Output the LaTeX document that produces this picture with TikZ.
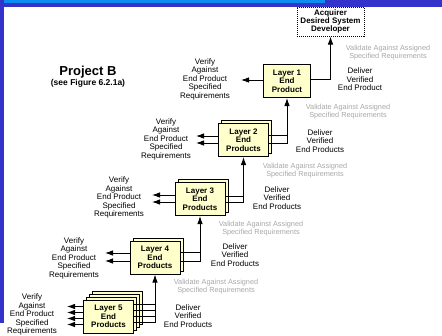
\documentclass[tikz,border=0pt]{standalone}
\usepackage{fontspec}
\setmainfont{Liberation Sans}
\usetikzlibrary{arrows.meta,calc}
\definecolor{barblue}{HTML}{3333CC}
\definecolor{lightbar}{HTML}{0A8CF0}
\definecolor{boxfill}{HTML}{FFFFCC}
\definecolor{notegray}{HTML}{A8A8A8}

\begin{document}
\begin{tikzpicture}[x=1pt,y=-1pt,
  layer/.style={draw=black, line width=1pt, fill=boxfill, minimum width=50pt,
    minimum height=33pt, inner sep=0pt, align=center,
    font=\bfseries\fontsize{8}{8.5}\selectfont},
  txt/.style={align=center, inner sep=0pt, font=\fontsize{8}{8.5}\selectfont},
  note/.style={align=center, inner sep=0pt, text=notegray, font=\fontsize{7.3}{8}\selectfont},
  link/.style={line width=0.9pt},
  arr/.style={line width=0.9pt, -{Latex[length=8pt,width=5.5pt]}},
]
% page frame
\fill[white] (0,0) rectangle (442,335);
\fill[barblue] (0,0) rectangle (442,6.5);
\fill[lightbar] (0,0) rectangle (325,3);
\fill[barblue] (0,0) rectangle (4,323);
\useasboundingbox (0,0) rectangle (442,335);

% title
\node[font=\bfseries\fontsize{13}{15}\selectfont, inner sep=0pt] (proj) at (88,72) {Project B};
\node[font=\bfseries\fontsize{8.5}{10}\selectfont, inner sep=0pt] (see) at (88,83.5) {(see Figure 6.2.1a)};

% top-level recipient
\node[draw, densely dotted, line width=1pt, minimum width=67pt, minimum height=29pt,
  inner sep=0pt, align=center, font=\bfseries\fontsize{8}{8}\selectfont]
  (acq) at (330.5,21.5) {Acquirer\\Desired System\\Developer};

% layer boxes (stacked copies behind the front box)
\node[layer, minimum width=47pt] (L1) at (287,81) {Layer 1\\End\\Product};

\node[layer] (L2b) at (246.5,137) {};
\node[layer] (L2) at (243.5,140) {Layer 2\\End\\Products};

\node[layer] (L3b) at (203,196) {};
\node[layer] (L3) at (200,199) {Layer 3\\End\\Products};

\node[layer] (L4b) at (158,254.5) {};
\node[layer] (L4) at (155,257.5) {Layer 4\\End\\Products};

\node[layer] (L5d) at (117.5,307.5) {};
\node[layer] (L5c) at (114.5,310.5) {};
\node[layer] (L5b) at (111.5,313.5) {};
\node[layer] (L5) at (108.5,316.5) {Layer 5\\End\\Products};

% labels
\node[txt] (v1) at (205,79) {Verify\\Against\\End Product\\Specified\\Requirements};
\node[txt] (d1) at (360,79.5) {Deliver\\Verified\\End Product};
\node[note] (g1) at (388,53) {Validate Against Assigned\\Specified Requirements};

\node[txt] (v2) at (166,139) {Verify\\Against\\End Product\\Specified\\Requirements};
\node[txt] (d2) at (320,141) {Deliver\\Verified\\End Products};
\node[note] (g2) at (348,111.5) {Validate Against Assigned\\Specified Requirements};

\node[txt] (v3) at (119,197.5) {Verify\\Against\\End Product\\Specified\\Requirements};
\node[txt] (d3) at (277,198) {Deliver\\Verified\\End Products};
\node[note] (g3) at (305,171) {Validate Against Assigned\\Specified Requirements};

\node[txt] (v4) at (74,258) {Verify\\Against\\End Product\\Specified\\Requirements};
\node[txt] (d4) at (235,255) {Deliver\\Verified\\End Products};
\node[note] (g4) at (261,229) {Validate Against Assigned\\Specified Requirements};

\node[txt] (v5) at (32,314.5) {Verify\\Against\\End Product\\Specified\\Requirements};
\node[txt] (d5) at (188,316) {Deliver\\Verified\\End Products};
\node[note] (g5) at (216,287) {Validate Against Assigned\\Specified Requirements};

% tips of the verification arrows
\coordinate (t1) at (241,0);
\coordinate (t2) at (196,0);
\coordinate (t3) at (152,0);
\coordinate (t4) at (105,0);
\coordinate (t5) at (67,0);

% verification arrows
\draw[arr] ([yshift=1pt]L1.west) -- ([yshift=1pt]L1.west -| t1);
\foreach \s in {4pt,-3pt} \draw[arr] ([yshift=\s]L2.west) -- ([yshift=\s]L2.west -| t2);
\foreach \s in {4pt,-3pt} \draw[arr] ([yshift=\s]L3.west) -- ([yshift=\s]L3.west -| t3);
\foreach \s in {4.5pt,-3.5pt} \draw[arr] ([yshift=\s]L4.west) -- ([yshift=\s]L4.west -| t4);
\foreach \s in {10pt,4pt,-2pt,-8pt} \draw[arr] ([yshift=\s]L5.west) -- ([yshift=\s]L5.west -| t5);

% delivery lines up to the next layer
\draw[arr] ([yshift=1.5pt]L1.east) -| (acq.south);

\draw[arr] ([yshift=-3pt]L2.east) -| (L1.south);
\draw[link] ([yshift=5pt]L2.east) -- ([yshift=5pt]L2.east -| L1.south);

\draw[arr] ([yshift=-3pt]L3.east) -| (L2.south);
\draw[link] ([yshift=3pt]L3.east) -- ([yshift=3pt]L3.east -| L2.south);

\draw[arr] ([yshift=-3.5pt]L4.east) -| (L3.south);
\draw[link] ([yshift=5.5pt]L4.east) -- ([yshift=5.5pt]L4.east -| L3.south);

\draw[arr] ([yshift=-6pt]L5.east) -| (L4.south);
\foreach \s in {12pt,6pt,0pt} \draw[link] ([yshift=\s]L5.east) -- ([yshift=\s]L5.east -| L4.south);
\end{tikzpicture}
\end{document}
